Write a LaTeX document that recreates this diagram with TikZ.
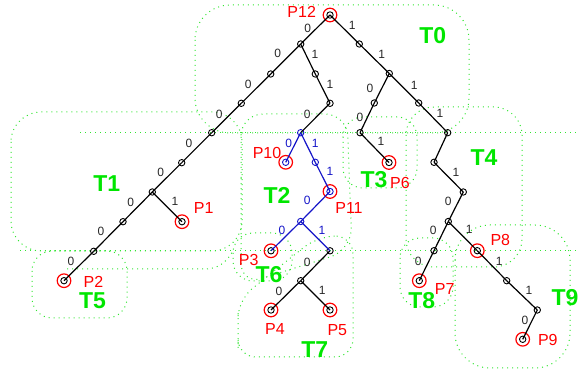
\documentclass[tikz,border=0pt]{standalone}
\usepackage{fontspec}
\setmainfont{Liberation Sans}
\definecolor{tgreen}{RGB}{0,230,0}
\definecolor{dgreen}{RGB}{50,230,50}
\definecolor{pred}{RGB}{255,0,0}
\definecolor{tblue}{RGB}{20,20,200}
\definecolor{labgray}{RGB}{40,40,40}
\tikzset{
 dot/.style={circle, draw=black, line width=0.9pt, minimum size=6.4pt, inner sep=0},
 bdot/.style={dot, draw=tblue},
 ring/.style={circle, draw=pred, line width=1.2pt, minimum size=13.6pt, inner sep=0},
 edge/.style={line width=1.2pt, black},
 bedge/.style={line width=1.2pt, tblue},
 elab/.style={font=\fontsize{12}{12}\selectfont, text=labgray, inner sep=0},
 blab/.style={elab, text=tblue},
 plab/.style={font=\fontsize{16}{16}\selectfont, text=pred, inner sep=0},
 tlab/.style={font=\fontsize{23}{23}\selectfont\bfseries, text=tgreen, inner sep=0},
 region/.style={draw=dgreen, line width=1pt, dash pattern=on 1pt off 4pt},
}
\begin{document}
\begin{tikzpicture}[x=1pt,y=-1pt]
\useasboundingbox (0,0) rectangle (579,379);
% regions
\draw[region, rounded corners=35] (195,5) rectangle (469,133);
\draw[region, rounded corners=30] (11,112) rectangle (242,251);
\draw[region] (80,133) -- (579,133);
\draw[region] (20,251) -- (579,251);
\draw[region] (67,269) -- (205,269) to[out=0,in=-120] (233,251);
\draw[region, rounded corners=20] (32,251) rectangle (127,318);
\draw[region, rounded corners=22] (241,200) -- (241,114) -- (347,114) -- (352,250) -- (241,285) -- cycle;
\draw[region, rounded corners=20] (233,233) rectangle (292,281);
\draw[region, rounded corners=18] (238,330) -- (238,357) -- (353,357) -- (353,236) -- (318,236) -- (238,300) -- cycle;
\draw[region, rounded corners=20] (343,117) rectangle (417,188);
\draw[region, rounded corners=28] (406,107) rectangle (522,267);
\draw[region, rounded corners=20] (400,238) rectangle (453,307);
\draw[region, rounded corners=35] (455,225) rectangle (570,368);
% black nodes
\foreach \n/\x/\y in {n0/330/15, a1/300.7/44, a2/270.7/74, a3/241.3/103.3, a4/211.7/132.7,
  a5/181.7/162.7, a6/152.3/192, p1/182/221.7, a7/123/221.7, a8/93.7/251.3, p2/64/280.7,
  b1/315.3/74, b2/330/103.3, p3/271/250.8, d0/330/250.8, d1/300.7/280.7, p4/271/310, p5/330/310,
  r1/359.3/44, r2/389.3/73.5, r3/374.3/103, r4/360/132.7, p6/389/162.5, r5/418.7/103,
  r6/447.7/132.7, r7/434/162.3, r8/463.3/192, r9/448.3/221.5, r10/434/250.7, p7/419.3/280.7,
  p8/477.3/250.7, r11/506.7/280.7, r12/537.3/310, p9/522.7/339.3}
  \node[dot] (\n) at (\x,\y) {};
% blue nodes
\foreach \n/\x/\y in {c0/300.7/132.7, p10/285.7/162.3, c1/315.3/162.3, p11/330/191.5, c2/300.7/221.5}
  \node[bdot] (\n) at (\x,\y) {};
% rings on leaves
\foreach \n in {n0,p1,p2,p3,p4,p5,p6,p7,p8,p9,p10,p11}
  \node[ring] (ring\n) at (\n) {};
% black edges with labels
\foreach \a/\b/\lx/\ly/\t in {n0/a1/307.7/28.3/0, n0/r1/352.3/25/1, a1/a2/277.7/53.3/0,
  a2/a3/248.3/84.3/0, a3/a4/219.3/114.3/0, a4/a5/189/143.3/0, a5/a6/160.7/172.3/0,
  a6/a7/130.7/202.3/0, a6/p1/175/201.7/1, a7/a8/101/231/0, a8/p2/71/261/0,
  a1/b1/315/54.3/1, b1/b2/330/84.3/1, b2/c0/307.3/114/0, d0/d1/307.3/262.3/0,
  d1/p4/279/291.5/0, d1/p5/322.3/290.7/1, r1/r2/381.7/54/1, r2/r3/370/88.3/0,
  r2/r5/414.3/85/1, r3/r4/360/117/0, r4/p6/381/141.7/1, r5/r6/440/113.3/1,
  r7/r8/456/172.7/1, r8/r9/448.3/201.7/0, r9/r10/433.3/230.7/0, r9/p8/469.3/229.3/1,
  r10/p7/418.3/261.7/0, p8/r11/499.3/261.7/1, r11/r12/529/290.7/1, r12/p9/525/320.7/0}
{
  \draw[edge] (\a.center) -- (\b.center);
  \node[elab] (l\a\b) at (\lx,\ly) {\t};
}
\draw[edge] (r6.center) -- (r7.center);
% blue edges with labels
\foreach \a/\b/\lx/\ly/\t in {c0/p10/288.7/143.3/0, c0/c1/315.3/143.3/1, c1/p11/330/171.7/1,
  p11/c2/307.3/200.7/0, c2/p3/282/230/0, c2/d0/322/230/1}
{
  \draw[bedge] (\a.center) -- (\b.center);
  \node[blab] (l\a\b) at (\lx,\ly) {\t};
}
% point labels
\foreach \n/\x/\y/\t in {lp12/301.7/11.7/P12, lp10/267/153/P10, lp11/349/207.5/P11,
  lp1/203.7/208.3/P1, lp2/93.5/281.7/P2, lp3/248.7/260/P3, lp4/275/329/P4, lp5/337.3/330/P5,
  lp6/400/182.5/P6, lp7/444.7/289/P7, lp8/500.3/240.3/P8, lp9/547.8/340.3/P9}
  \node[plab] (\n) at (\x,\y) {\t};
% region labels
\foreach \n/\x/\y/\t in {t0/432.7/36/T0, t1/106.8/183.7/T1, t2/277/195.3/T2, t3/374/180/T3,
  t4/484/158/T4, t5/92.5/301/T5, t6/269/274.5/T6, t7/314.7/350/T7, t8/421.7/301/T8, t9/565/297.5/T9}
  \node[tlab] (\n) at (\x,\y) {\t};
\end{tikzpicture}
\end{document}
